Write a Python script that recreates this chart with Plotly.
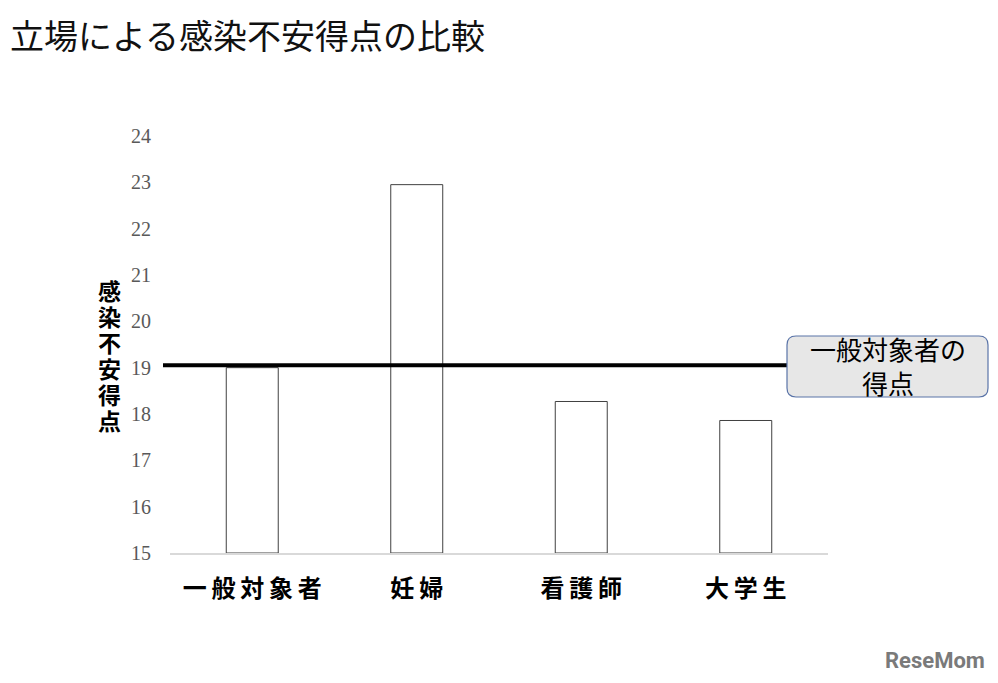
import plotly.graph_objects as go

categories = ["一般対象者", "妊婦", "看護師", "大学生"]
scores = [19.0, 22.95, 18.27, 17.86]
reference_score = 19.05
reference_label = "一般対象者の<br>得点"
y_ticks = [15, 16, 17, 18, 19, 20, 21, 22, 23, 24]
title_text = "立場による感染不安得点の比較"
y_title = "感染不安得点"

# the page body adds an 8px offset
OX, OY = 8, 8
W, H = 998 - OX, 683 - OY
L, T = 170 - OX, 136 - OY
R = 998 - 828
B = 683 - 553
pw, ph = W - L - R, H - T - B

def px2paper_x(px):
    return (px - OX - L) / pw

def px2paper_y(py):
    return (H - B - (py - OY)) / ph

fig = go.Figure()
fig.add_trace(go.Bar(
    x=categories, y=[s - 15 for s in scores], base=15,
    width=0.316,
    marker=dict(color="white", line=dict(color="#404040", width=1)),
    hoverinfo="skip",
))

fig.update_layout(
    width=W, height=H,
    margin=dict(l=L, r=R, t=T, b=B),
    plot_bgcolor="white", paper_bgcolor="white",
    showlegend=False,
    xaxis=dict(
        tickmode="array", tickvals=categories,
        ticktext=["<b>" + "\u2009".join(c) + "</b>" for c in categories],
        tickfont=dict(family="Noto Sans CJK JP", size=24, color="black"),
        ticks="outside", ticklen=13, tickcolor="rgba(0,0,0,0)",
        showline=True, linecolor="#d9d9d9", linewidth=1.5,
        showgrid=False, zeroline=False,
    ),
    yaxis=dict(
        range=[15, 24], tickmode="array", tickvals=y_ticks,
        tickfont=dict(family="Liberation Serif", size=20, color="#595959"),
        ticks="outside", ticklen=14, tickcolor="rgba(0,0,0,0)",
        showline=False, showgrid=False, zeroline=False,
    ),
)

# title
fig.add_annotation(xref="paper", yref="paper",
                   x=px2paper_x(8), y=px2paper_y(35),
                   text=title_text, showarrow=False,
                   font=dict(family="Noto Sans CJK JP", size=34, color="#111111"),
                   xanchor="left", yanchor="middle")

# reference line
fig.add_shape(type="line", xref="paper", yref="y",
              x0=px2paper_x(163), x1=px2paper_x(788),
              y0=reference_score, y1=reference_score,
              line=dict(color="black", width=4))

# rounded box
bx0, bx1, by0, by1, r = 787, 988, 336, 397, 9
def P(x, y):
    return f"{px2paper_x(x):.5f},{px2paper_y(y):.5f}"
path = (f"M {P(bx0 + r, by0)} L {P(bx1 - r, by0)} Q {P(bx1, by0)} {P(bx1, by0 + r)} "
        f"L {P(bx1, by1 - r)} Q {P(bx1, by1)} {P(bx1 - r, by1)} "
        f"L {P(bx0 + r, by1)} Q {P(bx0, by1)} {P(bx0, by1 - r)} "
        f"L {P(bx0, by0 + r)} Q {P(bx0, by0)} {P(bx0 + r, by0)} Z")
fig.add_shape(type="path", xref="paper", yref="paper", path=path,
              fillcolor="#e7e7e7", line=dict(color="#5a74a8", width=1.2))
fig.add_annotation(xref="paper", yref="paper",
                   x=px2paper_x((bx0 + bx1) / 2), y=px2paper_y((by0 + by1) / 2 - 1),
                   text=reference_label, showarrow=False,
                   font=dict(family="Noto Sans CJK JP", size=26, color="black"),
                   xanchor="center", yanchor="middle")

# y axis title stacked vertically, one character per annotation
for i, ch in enumerate(y_title):
    fig.add_annotation(xref="paper", yref="paper",
                       x=px2paper_x(109), y=px2paper_y(290 + 26 * i),
                       text="<b>" + ch + "</b>", showarrow=False,
                       font=dict(family="Noto Sans CJK JP", size=23, color="black"),
                       xanchor="center", yanchor="middle")

# logo text
fig.add_annotation(xref="paper", yref="paper",
                   x=px2paper_x(987), y=px2paper_y(660),
                   text="<b>ReseMom</b>", showarrow=False,
                   font=dict(family="Roboto", size=22, color="#7a7a7a"),
                   xanchor="right", yanchor="middle")

fig.write_html("out.html")
